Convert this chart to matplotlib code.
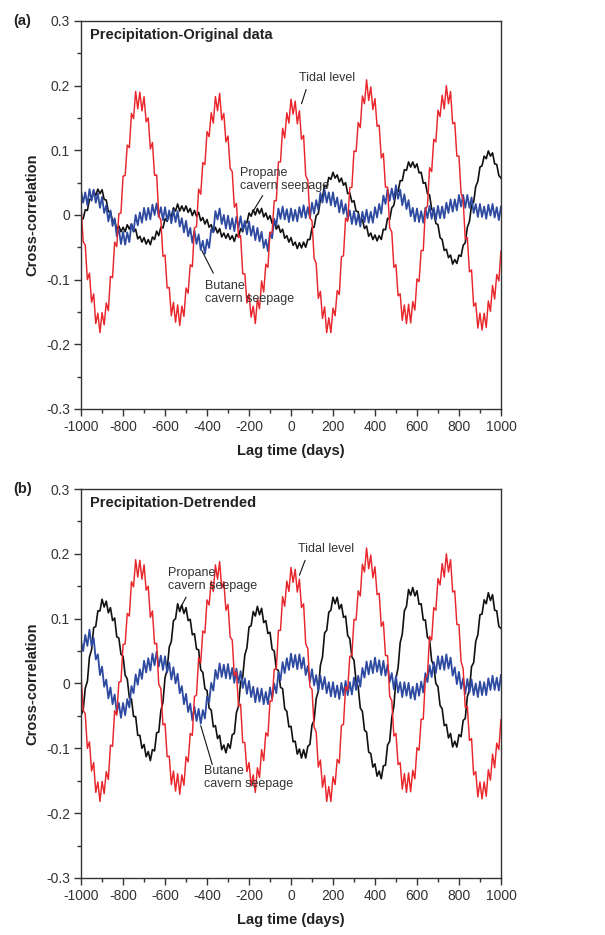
import numpy as np
import matplotlib
matplotlib.use("Agg")
import matplotlib.pyplot as plt
from matplotlib.ticker import MultipleLocator

plt.rcParams['font.family'] = ['Liberation Sans', 'DejaVu Sans']

# lag grid (days), one value every 10 days
lag = np.arange(-1000, 1001, 10)

# cross-correlation values, in units of 0.001
# tidal level (same curve in both panels)
tidal_level = [
    14, -41, -47, -100, -90, -135, -122, -168, -152, -182,
    -151, -170, -136, -148, -95, -97, -42, -49, 2, 3,
    60, 61, 108, 104, 157, 149, 191, 164, 190, 161,
    183, 144, 150, 102, 112, 61, 62, -1, -8, -64,
    -62, -113, -112, -156, -135, -166, -139, -171, -141, -157,
    -113, -121, -77, -80, -20, -18, 40, 32, 81, 78,
    129, 121, 158, 142, 183, 161, 188, 147, 157, 113,
    122, 72, 67, 12, 18, -35, -32, -91, -91, -136,
    -122, -158, -141, -168, -130, -145, -102, -119, -76, -81,
    -27, -27, 22, 22, 82, 82, 134, 119, 158, 142,
    179, 156, 176, 141, 161, 117, 123, 61, 54, -5,
    -9, -67, -75, -129, -118, -160, -142, -182, -159, -182,
    -144, -156, -117, -123, -65, -63, -5, -10, 42, 43,
    99, 98, 143, 135, 184, 172, 209, 177, 198, 163,
    180, 137, 139, 88, 95, 43, 43, -20, -26, -81,
    -77, -125, -122, -163, -139, -168, -138, -167, -134, -147,
    -99, -103, -55, -55, 8, 14, 73, 67, 117, 113,
    162, 152, 185, 164, 200, 172, 191, 141, 143, 91,
    91, 34, 23, -37, -35, -88, -85, -141, -136, -175,
    -152, -178, -152, -174, -133, -149, -109, -130, -92, -102,
    -56,
]

# (a) original data
propane_orig = [
    -5, -6, 8, 7, 24, 24, 37, 30, 40, 33,
    39, 24, 23, 5, 5, -10, -8, -23, -17, -26,
    -19, -26, -15, -22, -14, -26, -22, -37, -33, -42,
    -35, -45, -38, -46, -34, -38, -25, -32, -19, -20,
    -6, -10, 2, -3, 11, 6, 17, 6, 14, 6,
    14, 4, 10, -1, 7, -2, 4, -9, -4, -14,
    -7, -19, -15, -26, -19, -28, -21, -34, -28, -36,
    -29, -38, -32, -41, -30, -34, -21, -26, -12, -12,
    3, -2, 8, 0, 10, 2, 10, -3, 3, -7,
    -1, -13, -10, -22, -16, -27, -22, -36, -32, -42,
    -35, -47, -42, -52, -43, -51, -42, -50, -38, -38,
    -20, -19, -1, 2, 23, 27, 46, 43, 58, 55,
    66, 57, 62, 51, 57, 46, 50, 33, 34, 20,
    22, 6, 5, -11, -7, -21, -17, -33, -28, -38,
    -31, -40, -32, -38, -22, -23, -5, -7, 11, 15,
    35, 36, 53, 53, 70, 69, 82, 74, 82, 73,
    79, 65, 66, 49, 50, 33, 31, 9, 5, -13,
    -15, -35, -38, -55, -53, -66, -62, -76, -69, -75,
    -62, -64, -47, -43, -19, -10, 15, 20, 44, 52,
    74, 76, 91, 87, 99, 91, 96, 79, 78, 61,
    57,
]

butane_orig = [
    37, 19, 35, 15, 40, 22, 39, 19, 33, 11,
    28, 3, 15, -10, 7, -17, -5, -33, -22, -45,
    -26, -46, -27, -42, -14, -25, 0, -16, 4, -12,
    11, -8, 11, -7, 16, 0, 18, -3, 12, -8,
    12, -9, 7, -13, 8, -11, 6, -18, -5, -27,
    -9, -33, -20, -43, -24, -45, -30, -54, -40, -60,
    -38, -51, -22, -27, 6, -7, 10, -14, 0, -21,
    -1, -22, -5, -25, -3, -20, -2, -24, -9, -30,
    -10, -32, -17, -39, -20, -41, -26, -51, -38, -56,
    -27, -36, -6, -16, 10, -6, 13, -7, 9, -11,
    10, -9, 8, -10, 12, -4, 15, -5, 12, -5,
    19, 2, 23, 8, 34, 19, 39, 19, 35, 15,
    35, 13, 27, 4, 23, 2, 17, -7, 7, -14,
    6, -15, 1, -18, 5, -11, 8, -12, 5, -12,
    12, -4, 17, 2, 30, 17, 40, 22, 41, 24,
    46, 25, 39, 15, 32, 9, 23, -2, 11, -10,
    10, -11, 6, -12, 11, -5, 14, -6, 11, -8,
    14, -5, 13, -5, 19, 3, 24, 5, 24, 7,
    31, 13, 31, 11, 31, 11, 27, 3, 17, -3,
    17, -3, 13, -6, 16, -1, 17, -4, 12, -8,
    13,
]

# (b) detrended
propane_detr = [
    -49, -41, -7, 3, 41, 52, 86, 88, 112, 112,
    130, 118, 127, 109, 117, 97, 101, 72, 70, 45,
    42, 13, 7, -22, -24, -51, -51, -80, -80, -100,
    -94, -113, -105, -119, -102, -104, -76, -75, -42, -29,
    9, 21, 56, 65, 97, 100, 123, 111, 121, 108,
    117, 97, 99, 75, 77, 53, 52, 21, 17, -8,
    -11, -38, -41, -67, -65, -85, -80, -102, -95, -107,
    -93, -100, -79, -77, -45, -35, 2, 10, 44, 55,
    87, 89, 111, 104, 119, 106, 116, 94, 97, 77,
    79, 53, 50, 22, 20, -6, -8, -39, -43, -67,
    -66, -90, -89, -109, -101, -115, -102, -115, -97, -94,
    -64, -57, -23, -12, 28, 41, 78, 82, 110, 113,
    133, 123, 133, 115, 122, 102, 104, 74, 69, 41,
    36, 3, -5, -38, -43, -72, -75, -106, -108, -129,
    -124, -143, -135, -147, -127, -126, -95, -89, -53, -35,
    8, 24, 63, 76, 112, 119, 145, 136, 148, 135,
    143, 122, 123, 98, 98, 71, 68, 35, 28, 0,
    -5, -34, -39, -65, -63, -84, -77, -98, -89, -98,
    -79, -82, -57, -54, -20, -10, 26, 32, 65, 75,
    106, 107, 129, 123, 140, 128, 137, 113, 112, 88,
    85,
]

butane_detr = [
    65, 50, 75, 58, 83, 58, 70, 37, 45, 13,
    26, -5, 6, -23, -6, -32, -17, -45, -30, -53,
    -30, -49, -24, -37, -4, -15, 14, -2, 22, 7,
    35, 17, 39, 20, 46, 28, 49, 26, 43, 21,
    42, 17, 32, 6, 25, 0, 15, -15, -4, -32,
    -16, -44, -31, -57, -36, -58, -39, -62, -41, -54,
    -20, -29, 1, -11, 21, 7, 31, 10, 29, 8,
    30, 7, 24, 1, 23, 1, 19, -7, 8, -16,
    4, -21, -5, -29, -7, -28, -8, -32, -13, -32,
    -6, -24, 0, -15, 17, 5, 33, 16, 39, 21,
    46, 25, 44, 22, 45, 23, 40, 13, 27, 2,
    22, -3, 13, -11, 12, -9, 10, -15, 2, -20,
    2, -21, -3, -24, 1, -18, 4, -18, 2, -17,
    9, -10, 12, -5, 24, 9, 34, 14, 35, 16,
    40, 18, 36, 13, 35, 12, 29, 2, 16, -9,
    11, -14, 2, -21, 2, -19, 1, -23, -5, -25,
    0, -19, 3, -14, 16, 2, 28, 10, 33, 16,
    42, 22, 42, 21, 45, 23, 40, 12, 25, -1,
    18, -8, 8, -16, 7, -14, 6, -18, 0, -21,
    3, -18, 2, -18, 8, -10, 12, -10, 9, -11,
    13,
]

xticks = [-1000, -800, -600, -400, -200, 0, 200, 400, 600, 800, 1000]
xtick_labels = ['-1000', '-800', '-600', '-400', '-200', '0', '200', '400', '600', '800', '1000']
yticks = [-0.3, -0.2, -0.1, 0, 0.1, 0.2, 0.3]
ytick_labels = ['-0.3', '-0.2', '-0.1', '0', '0.1', '0.2', '0.3']

RED = '#e8262b'
BLUE = '#2d4aa0'
BLACK = '#111111'
TXT = '#333333'

fig = plt.figure(figsize=(6.05, 9.35), dpi=100)
ax_a = fig.add_axes([0.134, 0.5626, 0.694, 0.415])
ax_b = fig.add_axes([0.134, 0.061, 0.694, 0.416])

panels = [
    (ax_a, propane_orig, butane_orig, 'Precipitation-Original data', '(a)'),
    (ax_b, propane_detr, butane_detr, 'Precipitation-Detrended', '(b)'),
]

for ax, propane, butane, title, tag in panels:
    ax.plot(lag, np.array(propane) / 1000, color=BLACK, lw=1.2)
    ax.plot(lag, np.array(butane) / 1000, color=BLUE, lw=1.3)
    ax.plot(lag, np.array(tidal_level) / 1000, color=RED, lw=1.05)

    ax.set_xlim(-1000, 1000)
    ax.set_ylim(-0.3, 0.3)
    ax.set_xticks(xticks)
    ax.set_xticklabels(xtick_labels)
    ax.set_yticks(yticks)
    ax.set_yticklabels(ytick_labels)
    ax.xaxis.set_minor_locator(MultipleLocator(100))
    ax.yaxis.set_minor_locator(MultipleLocator(0.05))
    ax.tick_params(which='major', direction='out', length=5, width=1,
                   labelsize=10, labelcolor=TXT, color='#333333', pad=3)
    ax.tick_params(which='minor', direction='out', length=3, width=1, color='#333333')
    ax.tick_params(top=False, right=False, which='both')
    for s in ax.spines.values():
        s.set_linewidth(1.0)
        s.set_color('#333333')

    ax.set_xlabel('Lag time (days)', fontsize=10.5, fontweight='bold', color='#222222', labelpad=7)
    ax.set_ylabel('Cross-correlation', fontsize=10.5, fontweight='bold', color='#222222', labelpad=5)
    ax.text(0.022, 0.982, title, transform=ax.transAxes, ha='left', va='top',
            fontsize=10.5, fontweight='bold', color='#222222')
    pos = ax.get_position()
    fig.text(0.022, pos.y1, tag, ha='left', va='center', fontsize=10.5, fontweight='bold', color='#222222')

note = dict(fontsize=9, color=TXT, family=['Liberation Sans Narrow', 'Liberation Sans', 'DejaVu Sans'],
            ha='left', va='center', linespacing=1.1)
line = dict(arrowstyle='-', color=BLACK, lw=0.8, shrinkA=0, shrinkB=0)

# (a) annotations
ax_a.annotate('', xy=(50, 0.172), xytext=(72, 0.194), arrowprops=line)
ax_a.text(40, 0.212, 'Tidal level', **note)
ax_a.annotate('', xy=(-180, 0.006), xytext=(-135, 0.03), arrowprops=line)
ax_a.text(-242, 0.055, 'Propane\ncavern seepage', **note)
ax_a.annotate('', xy=(-425, -0.055), xytext=(-370, -0.09), arrowprops=line)
ax_a.text(-410, -0.12, 'Butane\ncavern seepage', **note)

# (b) annotations
ax_b.annotate('', xy=(40, 0.167), xytext=(67, 0.19), arrowprops=line)
ax_b.text(34, 0.207, 'Tidal level', **note)
ax_b.annotate('', xy=(-528, 0.116), xytext=(-500, 0.133), arrowprops=line)
ax_b.text(-585, 0.16, 'Propane\ncavern seepage', **note)
ax_b.annotate('', xy=(-430, -0.065), xytext=(-375, -0.125), arrowprops=line)
ax_b.text(-415, -0.145, 'Butane\ncavern seepage', **note)

fig.savefig('out.png', dpi=100)
